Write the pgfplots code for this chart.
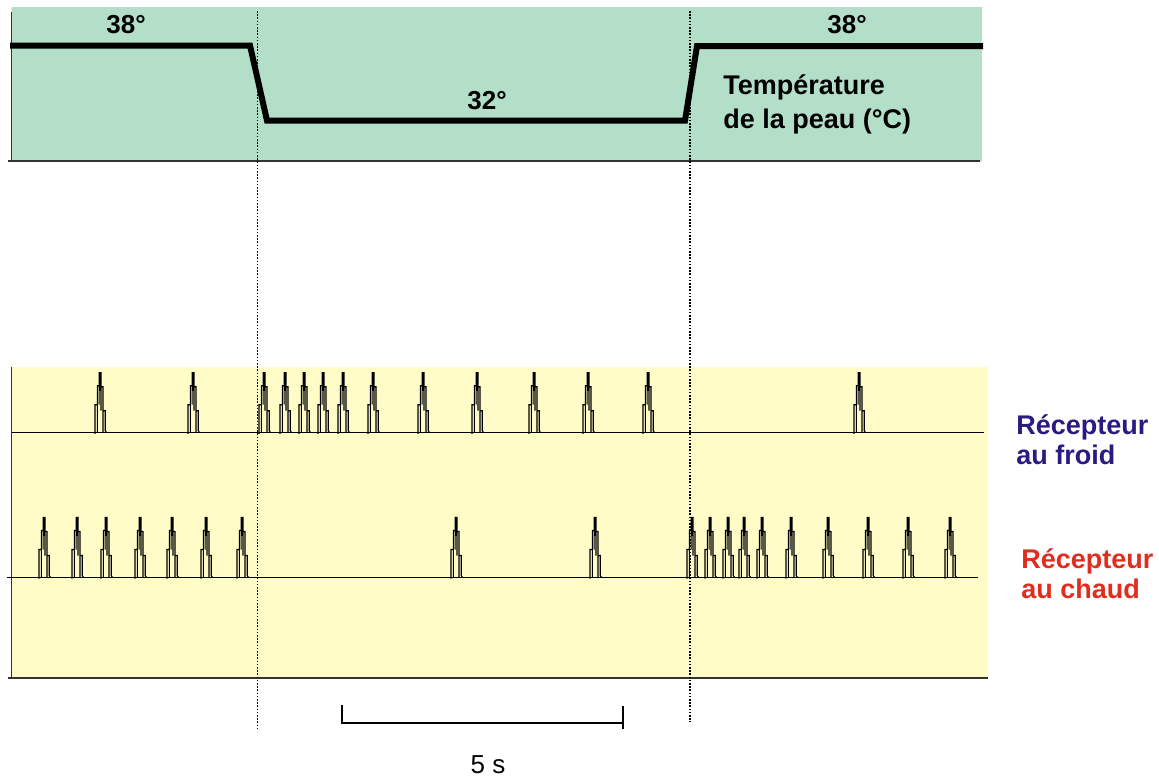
\documentclass[border=0pt]{standalone}
\usepackage{pgfplots}
\pgfplotsset{compat=1.18}
\usepackage{fontspec}
\setmainfont{Liberation Sans}
\definecolor{panelgreen}{RGB}{179,222,200}
\definecolor{panelyellow}{RGB}{255,252,200}
\definecolor{froidblue}{RGB}{45,25,130}
\definecolor{chaudred}{RGB}{225,45,30}
\pgfdeclareplotmark{spike}{%
  \pgfpathmoveto{\pgfqpoint{-2.5pt}{-0.6pt}}%
  \pgfpathlineto{\pgfqpoint{-2.5pt}{14pt}}%
  \pgfpathlineto{\pgfqpoint{-1.3pt}{14pt}}%
  \pgfpathlineto{\pgfqpoint{-1.3pt}{23.5pt}}%
  \pgfpathlineto{\pgfqpoint{-0.45pt}{23.5pt}}%
  \pgfpathlineto{\pgfqpoint{-0.45pt}{30pt}}%
  \pgfpathlineto{\pgfqpoint{0.5pt}{30pt}}%
  \pgfpathlineto{\pgfqpoint{0.5pt}{23pt}}%
  \pgfpathlineto{\pgfqpoint{1.5pt}{23pt}}%
  \pgfpathlineto{\pgfqpoint{1.5pt}{11pt}}%
  \pgfpathlineto{\pgfqpoint{2.6pt}{11pt}}%
  \pgfpathlineto{\pgfqpoint{2.6pt}{1pt}}%
  \pgfpathlineto{\pgfqpoint{3.3pt}{0pt}}%
  \pgfpathmoveto{\pgfqpoint{-1.3pt}{0pt}}%
  \pgfpathlineto{\pgfqpoint{-1.3pt}{14pt}}%
  \pgfpathmoveto{\pgfqpoint{1.5pt}{0pt}}%
  \pgfpathlineto{\pgfqpoint{1.5pt}{11pt}}%
  \pgfpathmoveto{\pgfqpoint{-0.45pt}{14pt}}%
  \pgfpathlineto{\pgfqpoint{-0.45pt}{23.5pt}}%
  \pgfpathmoveto{\pgfqpoint{0.5pt}{11pt}}%
  \pgfpathlineto{\pgfqpoint{0.5pt}{23pt}}%
  \pgfusepathqstroke
  \pgfpathrectangle{\pgfqpoint{-0.45pt}{21pt}}{\pgfqpoint{0.95pt}{9pt}}%
  \pgfusepathqfill
}
\begin{document}
\begin{tikzpicture}
\begin{axis}[width=579.5pt, height=388pt, scale only axis,
  xmin=0, xmax=1159, ymin=0, ymax=776, y dir=reverse,
  hide axis, clip=false]
% background
\addplot[fill=white, draw=none] coordinates {(0,0) (1159,0) (1159,776) (0,776) (0,0)};
% panels
\addplot[fill=panelgreen, draw=none] coordinates {(11.5,7) (982,7) (982,161) (11.5,161) (11.5,7)};
\addplot[fill=panelyellow, draw=none] coordinates {(11.5,367) (988,367) (988,678) (11.5,678) (11.5,367)};
% panel borders
\addplot[black!80, line width=0.8pt] coordinates {(11.5,12) (11.5,161)};
\addplot[black!80, line width=0.8pt] coordinates {(8,161) (980,161)};
\addplot[black!80, line width=0.8pt] coordinates {(11.5,367) (11.5,678)};
\addplot[black!80, line width=0.8pt] coordinates {(8,678) (988,678)};
% baselines
\addplot[black, line width=0.6pt] coordinates {(11.5,432.7) (984,432.7)};
\addplot[black, line width=0.6pt] coordinates {(6.7,577.5) (978,577.5)};
% temperature trace
\addplot[black, line width=3pt, line join=miter] coordinates {(10,45.5) (250,45.5) (267,120.5) (685,120.5) (697,46) (983,46)};
% dotted guide lines
\addplot[black, line width=0.75pt, dash pattern=on 0.8pt off 0.8pt] coordinates {(257.5,11) (257.5,728)};
\addplot[black, line width=0.75pt, dash pattern=on 0.8pt off 0.8pt] coordinates {(690,11) (690,722)};
% spikes: cold receptor
\addplot[only marks, mark=spike, mark options={black, line width=0.55pt}] coordinates {
(100,432.7) (193,432.7) (264,432.7) (285,432.7) (304,432.7) (323,432.7) (343,432.7)
(373,432.7) (423,432.7) (477,432.7) (534,432.7) (588,432.7) (648,432.7) (859,432.7)};
% spikes: warm receptor
\addplot[only marks, mark=spike, mark options={black, line width=0.55pt}] coordinates {
(44,577.5) (77,577.5) (106,577.5) (140,577.5) (172,577.5) (206,577.5) (242,577.5)
(456,577.5) (595,577.5) (692,577.5) (710,577.5) (728,577.5) (744,577.5) (762,577.5)
(791,577.5) (828,577.5) (868,577.5) (908,577.5) (950,577.5)};
% scale bar
\addplot[black, line width=0.6pt] coordinates {(342,705) (342,723) (623,723)};
\addplot[black, line width=0.6pt] coordinates {(623,706) (623,729)};
% texts
\node[anchor=base west, font=\fontsize{13}{15}\selectfont\bfseries, inner sep=0pt] at (axis cs:106,33) {38°};
\node[anchor=base west, font=\fontsize{13}{15}\selectfont\bfseries, inner sep=0pt] at (axis cs:467,109) {32°};
\node[anchor=base west, font=\fontsize{13}{15}\selectfont\bfseries, inner sep=0pt] at (axis cs:827,33) {38°};
\node[anchor=base west, font=\fontsize{13.5}{15}\selectfont\bfseries, inner sep=0pt] at (axis cs:723,94) {Température};
\node[anchor=base west, font=\fontsize{13.5}{15}\selectfont\bfseries, inner sep=0pt] at (axis cs:723,128) {de la peau (°C)};
\node[anchor=base west, font=\fontsize{13.5}{15}\selectfont\bfseries, text=froidblue, inner sep=0pt] at (axis cs:1016,434) {Récepteur};
\node[anchor=base west, font=\fontsize{13.5}{15}\selectfont\bfseries, text=froidblue, inner sep=0pt] at (axis cs:1016,464) {au froid};
\node[anchor=base west, font=\fontsize{13.5}{15}\selectfont\bfseries, text=chaudred, inner sep=0pt] at (axis cs:1021,568) {Récepteur};
\node[anchor=base west, font=\fontsize{13.5}{15}\selectfont\bfseries, text=chaudred, inner sep=0pt] at (axis cs:1021,598) {au chaud};
\node[anchor=base, font=\fontsize{13}{15}\selectfont, inner sep=0pt] at (axis cs:488,773) {5 s};
\end{axis}
\end{tikzpicture}
\end{document}
